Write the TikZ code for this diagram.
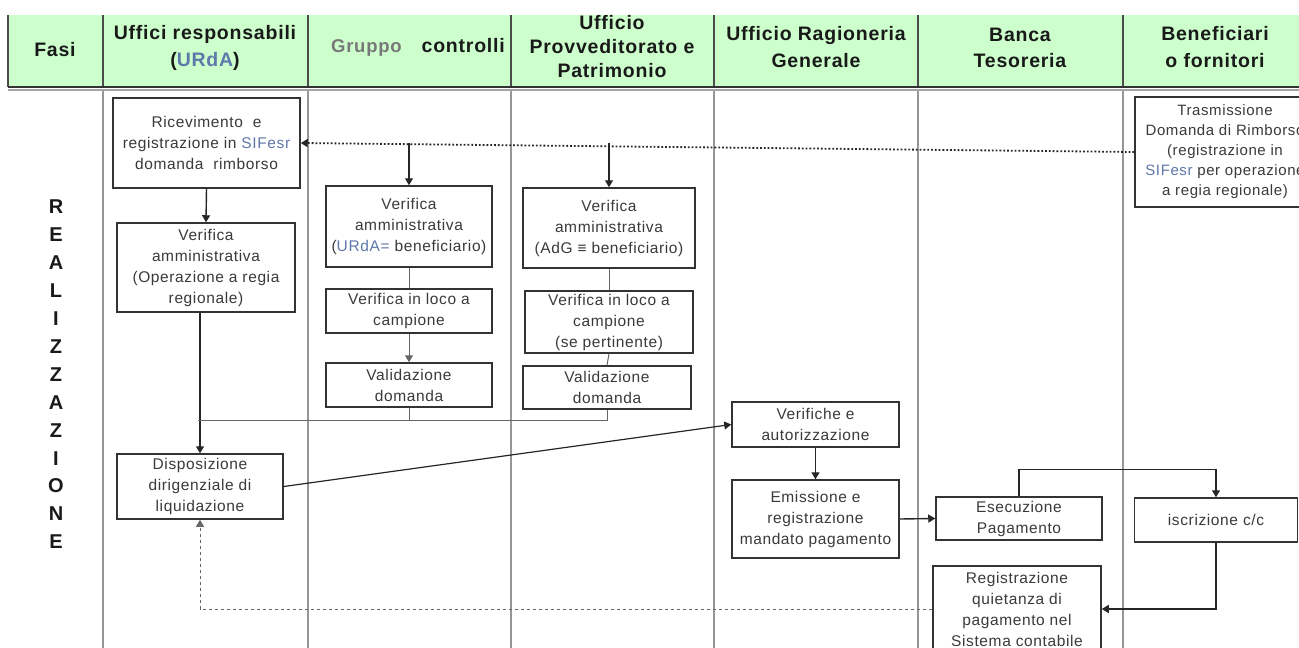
\documentclass[tikz,border=0pt]{standalone}
\usepackage{fontspec}
\setmainfont{Liberation Sans}
\newfontfamily\boxfont[LetterSpace=4]{Liberation Sans}
\newfontfamily\headfont[LetterSpace=4]{Liberation Sans}
\usetikzlibrary{arrows.meta}

\definecolor{hdgreen}{RGB}{204,255,204}
\definecolor{boxtext}{RGB}{58,58,58}
\definecolor{laneline}{RGB}{150,150,150}
\definecolor{codeblue}{RGB}{95,120,170}
\definecolor{grouptxt}{RGB}{120,120,120}

\tikzset{
  proc/.style={draw=black!80, line width=1.5pt, fill=white, inner sep=0pt,
    align=center, text=boxtext, font=\boxfont\fontsize{15.5}{21}\selectfont},
  headtxt/.style={align=center, inner sep=0pt, text=black!90,
    font=\headfont\bfseries\fontsize{19.5}{26.5}\selectfont},
  flow/.style={line width=1.4pt, draw=black!85, -{Triangle[length=7pt,width=8pt]}},
  thinlink/.style={line width=1pt, draw=black!60},
  thinflow/.style={thinlink, -{Triangle[length=7pt,width=8pt]}},
  lane/.style={line width=1.5pt, draw=laneline},
  hdiv/.style={line width=2pt, draw=black!70},
}

\newcommand{\sif}{\textcolor{codeblue}{SIFesr}}

\begin{document}
\begin{tikzpicture}[x=1pt, y=-1pt]
\useasboundingbox (0,0) rectangle (1299,648);
\clip (0,0) rectangle (1299,648);

% header band
\fill[hdgreen] (8,15) rectangle (1299,87);
\draw[hdiv] (8,15) -- (8,87);
\foreach \xx in {103,308,511,714,918,1123}
  \draw[hdiv] (\xx,15) -- (\xx,87);
\draw[line width=1.2pt, black!80] (8,87) -- (1299,87);
\draw[line width=2pt, black!35] (8,89.5) -- (1299,89.5);

% swim lanes
\foreach \xx in {103,308,511,714,918,1123}
  \draw[lane] (\xx,91) -- (\xx,648);

% column titles
\node[headtxt] (hfasi) at (55,50) {Fasi};
\node[headtxt] (hurda) at (205,48) {Uffici responsabili\\(\textcolor{codeblue}{URdA})};
\node[headtxt, anchor=east] (hgrp) at (505,47)
  {\textcolor{grouptxt}{\fontsize{18.5}{20}\selectfont Gruppo}\hspace{20pt}controlli};
\node[headtxt] (hprov) at (612,47) {Ufficio\\[-2.5pt]Provveditorato e\\[-2.5pt]Patrimonio};
\node[headtxt] (hrag) at (816,47) {Ufficio Ragioneria\\Generale};
\node[headtxt] (hbanca) at (1020,48) {Banca\\Tesoreria};
\node[headtxt] (hbenef) at (1215,47) {Beneficiari\\o fornitori};

% phase label
\node[align=center, inner sep=0pt, text=black!90,
  font=\bfseries\fontsize{20}{27.9}\selectfont] (fase) at (56,374.5)
  {R\\E\\A\\L\\I\\Z\\Z\\A\\Z\\I\\O\\N\\E};

% process boxes
\node[proc, minimum width=187pt, minimum height=90pt] (ric) at (206.5,143)
  {Ricevimento\ \ e\\registrazione in \sif\\domanda\ \ rimborso};
\node[proc, minimum width=178pt, minimum height=89pt] (vreg) at (206,267.5)
  {Verifica\\amministrativa\\(Operazione a regia\\regionale)};
\node[proc, minimum width=166pt, minimum height=81pt] (vg1) at (409,226.5)
  {Verifica\\amministrativa\\(\textcolor{codeblue}{URdA=} beneficiario)};
\node[proc, minimum width=166pt, minimum height=44pt] (vg2) at (409,311)
  {Verifica in loco a\\campione};
\node[proc, minimum width=166pt, minimum height=44pt] (vg3) at (409,385)
  {Validazione\\domanda};
\node[proc, minimum width=172pt, minimum height=80pt] (vp1) at (609,228)
  {Verifica\\amministrativa\\(AdG ≡ beneficiario)};
\node[proc, minimum width=168pt, minimum height=62pt] (vp2) at (609,322)
  {Verifica in loco a\\campione\\(se pertinente)};
\node[proc, minimum width=168pt, minimum height=43pt] (vp3) at (607,387.5)
  {Validazione\\domanda};
\node[proc, minimum width=167pt, minimum height=45pt] (vera) at (815.5,424.5)
  {Verifiche e\\autorizzazione};
\node[proc, minimum width=167pt, minimum height=78pt] (emis) at (815.5,519)
  {Emissione e\\registrazione\\mandato pagamento};
\node[proc, minimum width=166pt, minimum height=43pt] (esec) at (1019,518.5)
  {Esecuzione\\Pagamento};
\node[proc, minimum width=163pt, minimum height=44pt] (iscr) at (1216,520)
  {iscrizione c/c};
\node[proc, minimum width=168pt, minimum height=86pt] (regq) at (1017,609)
  {Registrazione\\quietanza di\\pagamento nel\\Sistema contabile};
\node[proc, minimum width=180pt, minimum height=110pt,
  font=\boxfont\fontsize{15}{20}\selectfont] (tras) at (1225,152)
  {Trasmissione\\Domanda di Rimborso\\(registrazione in\\\sif\ per operazione\\a regia regionale)};
\node[proc, minimum width=166pt, minimum height=65pt] (disp) at (200,486.5)
  {Disposizione\\dirigenziale di\\liquidazione};

% connectors
\draw[line width=1.8pt, draw=black!85, dotted, -{Triangle[length=7pt,width=8pt]}]
  (tras.west) -- (ric.east);
\draw[flow] (vg1.north |- ric.east) -- (vg1.north);
\draw[flow] (vp1.north |- ric.east) -- (vp1.north);
\draw[flow] (ric.south) -- (vreg.north);
\draw[flow] (disp.north |- vreg.south) -- (disp.north);
\draw[thinlink] (vg1.south) -- (vg2.north);
\draw[thinflow] (vg2.south) -- (vg3.north);
\draw[thinlink] (vp1.south) -- (vp2.north);
\draw[thinlink] (vp2.south) -- (vp3.north);
\coordinate (join) at (198,420);
\draw[thinlink] (vg3.south) |- (join);
\draw[thinlink] (vp3.south) |- (join);
\draw[flow, line width=1.2pt] (disp.east) -- (vera.west);
\draw[flow] (vera.south) -- (emis.north);
\draw[flow] (emis.east) -- (esec.west);
\draw[flow] (esec.north) -- ++(0,-27) -| (iscr.north);
\draw[flow] (iscr.south) |- (regq.east);
\draw[thinlink, dashed, -{Triangle[length=7pt,width=8pt]}] (regq.west) -| (disp.south);
\end{tikzpicture}
\end{document}
